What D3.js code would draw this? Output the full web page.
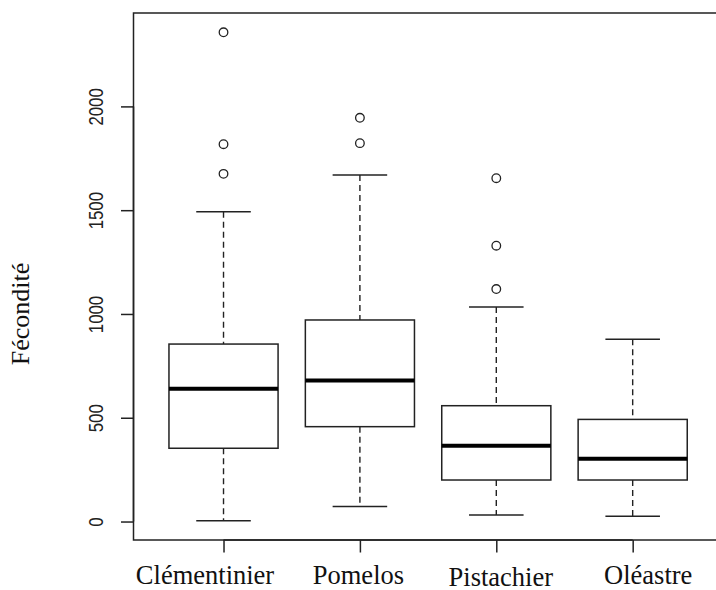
<!DOCTYPE html>
<html>
  <head>
    <script src="https://d3js.org/d3.v7.min.js"></script>
    <style>
      body { margin: 0; background: #fff; }
    </style>
  </head>
  <body>
  <div id='chart'></div>
    <script type="text/javascript">

// valeurs
var categories = ["Clémentinier", "Pomelos", "Pistachier", "Oléastre"];
var whiskerLow = [4, 72, 31, 26];
var q1 = [353, 457, 200, 200];
var median = [640, 680, 365, 303];
var q3 = [855, 971, 558, 492];
var whiskerHigh = [1492, 1670, 1034, 878];
var outliers = [[1675, 1818, 2357], [1823, 1945], [1120, 1329, 1654], []];
var yTicks = [0, 500, 1000, 1500, 2000];

var w = 716,
    h = 590;

// marges du cadre (le bord droit sort de l'image)
var mLeft = 133.5, mTop = 13, mBottom = 540, mRight = 722.7;
// décalage des libellés de l'axe x (placés à la main dans l'original)
var labelDx = [-19, -2, 4, 15],
    labelDy = [0, 0, 2, 0];

var svg = d3.select("#chart").append("svg")
    .attr("width", w)
    .attr("height", h);

// échelle x numérique comme dans R (1..n, xlim 0.5..n+0.5 étendu de 4%)
var x = d3.scaleLinear()
    .domain([0.34, 4.66])
    .range([mLeft, mRight]);

var y = d3.scaleLinear()
    .domain([-89, 2450])
    .range([mBottom, mTop]);

var data = categories.map(function(c, i) {
  return {name: c, i: i + 1, lo: whiskerLow[i], q1: q1[i], med: median[i],
          q3: q3[i], hi: whiskerHigh[i], out: outliers[i]};
});

var boxes = svg.append("g").selectAll("g.box")
    .data(data)
  .enter().append("g")
    .attr("class", "box");

// moustaches pointillées
boxes.append("line")
    .attr("x1", function(d){ return x(d.i); })
    .attr("x2", function(d){ return x(d.i); })
    .attr("y1", function(d){ return y(d.hi); })
    .attr("y2", function(d){ return y(d.q3); })
    .attr("stroke", "#222").attr("stroke-width", 1.4)
    .attr("stroke-dasharray", "6,4");
boxes.append("line")
    .attr("x1", function(d){ return x(d.i); })
    .attr("x2", function(d){ return x(d.i); })
    .attr("y1", function(d){ return y(d.q1); })
    .attr("y2", function(d){ return y(d.lo); })
    .attr("stroke", "#222").attr("stroke-width", 1.4)
    .attr("stroke-dasharray", "6,4");

// extrémités
["hi", "lo"].forEach(function(k){
  boxes.append("line")
      .attr("x1", function(d){ return x(d.i - 0.2); })
      .attr("x2", function(d){ return x(d.i + 0.2); })
      .attr("y1", function(d){ return y(d[k]); })
      .attr("y2", function(d){ return y(d[k]); })
      .attr("stroke", "#222").attr("stroke-width", 1.5);
});

boxes.append("rect")
    .attr("x", function(d){ return x(d.i - 0.4); })
    .attr("width", function(d){ return x(d.i + 0.4) - x(d.i - 0.4); })
    .attr("y", function(d){ return y(d.q3); })
    .attr("height", function(d){ return y(d.q1) - y(d.q3); })
    .attr("fill", "none")
    .attr("stroke", "#222").attr("stroke-width", 1.5);

boxes.append("line")
    .attr("x1", function(d){ return x(d.i - 0.4); })
    .attr("x2", function(d){ return x(d.i + 0.4); })
    .attr("y1", function(d){ return y(d.med); })
    .attr("y2", function(d){ return y(d.med); })
    .attr("stroke", "#000").attr("stroke-width", 4);

boxes.selectAll("circle")
    .data(function(d){ return d.out.map(function(v){ return {i: d.i, v: v}; }); })
  .enter().append("circle")
    .attr("cx", function(d){ return x(d.i); })
    .attr("cy", function(d){ return y(d.v); })
    .attr("r", 4.3)
    .attr("fill", "none")
    .attr("stroke", "#222")
    .attr("stroke-width", 1.3);

// cadre
svg.append("rect")
    .attr("x", mLeft).attr("y", mTop)
    .attr("width", mRight - mLeft).attr("height", mBottom - mTop)
    .attr("fill", "none")
    .attr("stroke", "#222").attr("stroke-width", 1.5);

// axe y
var yAxis = svg.append("g")
    .attr("transform", "translate(" + mLeft + ",0)")
    .call(d3.axisLeft(y).tickValues(yTicks).tickFormat(d3.format("d"))
      .tickSize(12.5).tickSizeOuter(0));
yAxis.select(".domain")
    .attr("d", "M0," + y(0) + "V" + y(2000))
    .attr("stroke", "#222").attr("stroke-width", 1.5);
yAxis.selectAll(".tick line").attr("stroke", "#222").attr("stroke-width", 1.5);
yAxis.selectAll(".tick text")
    .attr("transform", "rotate(-90) scale(0.8,1)")
    .attr("x", 0).attr("y", -38).attr("dy", "0.35em")
    .attr("text-anchor", "middle")
    .attr("fill", "#222")
    .attr("font-family", "Liberation Sans, Arial, sans-serif")
    .attr("font-size", "21px");

// axe x
var xAxis = svg.append("g")
    .attr("transform", "translate(0," + mBottom + ")")
    .call(d3.axisBottom(x).tickValues([1, 2, 3, 4]).tickSize(12.5).tickSizeOuter(0)
      .tickFormat(function(d){ return categories[d - 1]; }));
xAxis.select(".domain")
    .attr("d", "M" + x(1) + ",0H" + x(4))
    .attr("stroke", "#222").attr("stroke-width", 1.5);
xAxis.selectAll(".tick line").attr("stroke", "#222").attr("stroke-width", 1.5);
xAxis.selectAll(".tick text")
    .attr("x", function(d){ return labelDx[d - 1]; })
    .attr("y", function(d){ return 44 + labelDy[d - 1]; })
    .attr("dy", 0)
    .attr("fill", "#111")
    .attr("font-family", "Liberation Serif, Times New Roman, serif")
    .attr("font-size", "26.5px");

svg.append("text")
    .attr("transform", "translate(29," + y(1000) + ") rotate(-90)")
    .attr("text-anchor", "middle")
    .attr("fill", "#111")
    .attr("font-family", "Liberation Serif, Times New Roman, serif")
    .attr("font-size", "26px")
    .text("Fécondité");

    </script>
  </body>
</html>
